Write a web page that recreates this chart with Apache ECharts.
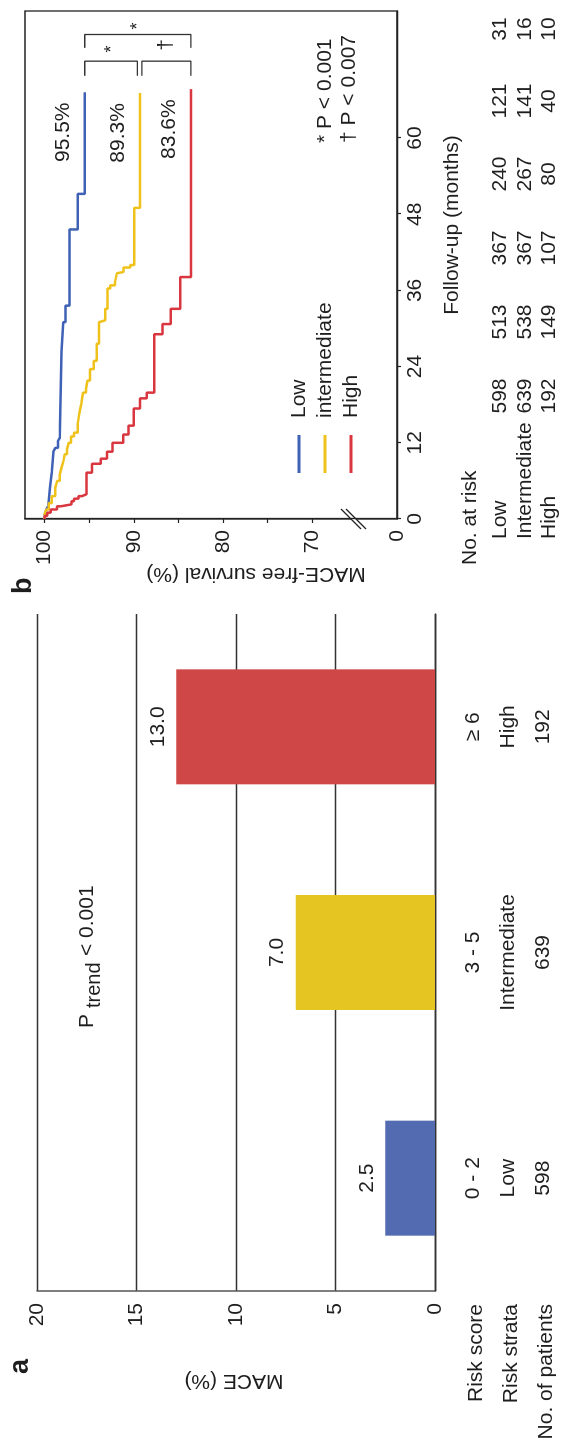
<!DOCTYPE html>
<html><head><meta charset="utf-8">
<script src="https://cdn.jsdelivr.net/npm/echarts@6/dist/echarts.min.js"></script>
<style>
html,body{margin:0;padding:0;background:#fff;overflow:hidden;width:561px;height:1442px;}
#wrap{position:absolute;left:0;top:0;width:1442px;height:561px;transform-origin:0 0;transform:translate(0,1442px) rotate(-90deg);}
</style></head><body><div id="wrap"></div>
<script>
// ---------- Panel a data ----------
const riskStrata = ['Low', 'Intermediate', 'High'];
const riskScore = ['0 - 2', '3 - 5', '\u2265 6'];
const patients = [598, 639, 192];
const maceRate = [2.5, 7.0, 13.0];
const rowHeaders = ['Risk score', 'Risk strata', 'No. of patients'];
const maceTicks = [0, 5, 10, 15, 20];

// ---------- Panel b data (Kaplan-Meier steps) ----------
const kmNames = ['Low', 'intermediate', 'High'];
const lowTime = [0, 0.7, 1.5, 2.0, 5.0, 7.3, 10.7, 11.2, 12.3, 12.8, 26.4, 31.0, 33.6, 45.6, 51.2, 67.2];
const lowSurv = [100, 99.8, 99.6, 99.4, 99.2, 99.0, 98.8, 98.5, 98.3, 98.1, 97.9, 97.65, 97.2, 96.3, 95.5, 95.5];
const intTime = [0, 0.8, 1.5, 2.5, 3.6, 4.9, 6.0, 7.0, 8.1, 9.1, 10.2, 11.0, 12.0, 13.0, 13.6, 14.9, 16.8, 18.1, 19.9, 20.5, 21.8, 23.6, 24.9, 27.6, 31.0, 31.3, 33.1, 36.3, 36.8, 37.4, 38.7, 38.9, 39.6, 40.0, 49.0, 67.1];
const intSurv = [100, 99.8, 99.55, 99.2, 98.8, 98.6, 98.3, 98.1, 97.9, 97.75, 97.5, 97.3, 97.05, 96.7, 96.3, 96.1, 95.9, 95.7, 95.35, 95.2, 94.9, 94.5, 94.15, 93.9, 93.7, 93.2, 92.95, 92.65, 92.1, 91.9, 91.7, 91.15, 90.4, 89.95, 89.3, 89.3];
const highTime = [0, 0.5, 1.0, 1.5, 2.0, 2.3, 2.8, 3.2, 3.6, 3.9, 7.3, 8.7, 9.5, 10.6, 12.0, 13.3, 14.7, 17.4, 19.0, 19.9, 29.1, 30.7, 33.1, 38.1, 67.7];
const highSurv = [100, 99.7, 99.3, 98.6, 98.2, 97.0, 96.7, 96.2, 95.8, 95.3, 94.7, 93.7, 93.0, 92.4, 91.2, 90.6, 90.0, 89.3, 88.55, 87.7, 86.8, 85.85, 84.8, 83.6, 83.6];
const monthTicks = [0, 12, 24, 36, 48, 60];
const survTicks = [70, 80, 90, 100];
const survMinorTicks = [70, 75, 80, 85, 90, 95, 100];
const axisBreakLabel = '0';

// Numbers at risk
const atRiskHeader = 'No. at risk';
const atRiskRows = ['Low', 'Intermediate', 'High'];
const atRiskLow = [598, 513, 367, 240, 121, 31];
const atRiskInt = [639, 538, 367, 267, 141, 16];
const atRiskHigh = [192, 149, 107, 80, 40, 10];

// Pairwise comparisons
const comparisons = [[0, 1], [1, 2], [0, 2]];
const compSymbols = ['*', '\u2020', '*'];
const pNotes = ['* P < 0.001', '\u2020 P < 0.007'];

// ---------- styling ----------
const FONT = '"Liberation Sans", Arial, Helvetica, sans-serif';
const TXT = '#1e1e1e';
const barColors = ['#536bb0', '#e4c521', '#d04747'];
const kmColors = ['#3f62b6', '#efc21b', '#d9363f'];

const chart = echarts.init(document.getElementById('wrap'), null, {renderer: 'canvas', width: 1442, height: 561});

const kmTimes = [lowTime, intTime, highTime];
const kmSurvs = [lowSurv, intSurv, highSurv];
const finals = kmSurvs.map(s => s[s.length - 1]);
const ends = kmTimes.map(t => t[t.length - 1]);

function T(x, y, text, o) {
  o = o || {};
  return {
    type: 'text', x: x, y: y, rotation: o.rot || 0, silent: true,
    style: {
      text: text, fill: TXT, fontFamily: FONT, fontSize: o.fs || 21,
      fontWeight: o.fw || 'normal', align: o.align || 'left', verticalAlign: 'middle'
    }
  };
}

const graphics = [];
// panel a texts
graphics.push(T(68, 21, 'a', {fs: 27, fw: 'bold'}));
graphics.push(T(61, 234, 'MACE (%)', {rot: Math.PI / 2, align: 'center'}));
const rowY = [476, 511, 546];
rowHeaders.forEach((h, i) => graphics.push(T(138, rowY[i], h, {align: 'right'})));
graphics.push(T(414, 87, 'P'));
graphics.push(T(434, 94, 'trend', {fs: 20}));
graphics.push(T(486, 87, '< 0.001'));

// panel b texts
graphics.push(T(848, 24, 'b', {fs: 27, fw: 'bold'}));
graphics.push(T(868, 256, 'MACE-free survival (%)', {rot: Math.PI / 2, align: 'center'}));
graphics.push(T(1217, 452, 'Follow-up (months)', {align: 'center'}));
graphics.push(T(877, 470.5, atRiskHeader));
const tblY = [500.5, 525, 549.5];
const tblX = [1046, 1120, 1194, 1268, 1341, 1413];
atRiskRows.forEach((r, i) => graphics.push(T(903, tblY[i], r)));
[atRiskLow, atRiskInt, atRiskHigh].forEach((row, i) => {
  row.forEach((n, j) => graphics.push(T(tblX[j], tblY[i], String(n), {align: 'center'})));
});
graphics.push(T(1299, 325, pNotes[0]));
graphics.push(T(1299, 349, pNotes[1]));
// bracket symbols
graphics.push(T(1393, 112, compSymbols[0], {align: 'center', fs: 18}));
graphics.push(T(1397, 166, compSymbols[1], {align: 'center', fs: 21}));
graphics.push(T(1416, 138, compSymbols[2], {align: 'center', fs: 18}));
// axis break marks
graphics.push({type: 'polygon', silent: true, shape: {points: [[933, 341], [933, 346], [913, 366], [913, 361]]}, style: {fill: '#fff'}});
graphics.push({type: 'line', silent: true, shape: {x1: 933, y1: 341, x2: 913, y2: 361}, style: {stroke: '#222', lineWidth: 1.2}});
graphics.push({type: 'line', silent: true, shape: {x1: 933, y1: 346, x2: 913, y2: 366}, style: {stroke: '#222', lineWidth: 1.2}});

// bracket series built from final survivals
const bx = [[69.8, 72.1], [69.8, 72.1], [74.2, 76.3]];
const bracketSeries = comparisons.map((c, k) => {
  let top = finals[c[0]], bot = finals[c[1]];
  if (k === 0) bot = bot + 0.3;
  if (k === 1) top = top - 0.2;
  return {
    type: 'line', xAxisIndex: 1, yAxisIndex: 1, silent: true, symbol: 'none',
    lineStyle: {color: '#333', width: 1.3}, z: 3,
    data: [[bx[k][0], top], [bx[k][1], top], [bx[k][1], bot], [bx[k][0], bot]]
  };
});

const kmSeries = kmNames.map((n, i) => ({
  name: n, type: 'line', xAxisIndex: 1, yAxisIndex: 1, step: 'end', symbol: 'none',
  color: kmColors[i], lineStyle: {color: kmColors[i], width: 2.5}, z: 4,
  data: kmTimes[i].map((t, j) => [t, kmSurvs[i][j]])
}));

const endLabelSeries = kmNames.map((n, i) => ({
  type: 'scatter', xAxisIndex: 1, yAxisIndex: 1, silent: true, symbolSize: 0,
  itemStyle: {color: kmColors[i], opacity: 1},
  label: {show: true, position: 'top', distance: 5, offset: [-40, -6], fontSize: 21, fontFamily: FONT,
    color: TXT, opacity: 1, textBorderWidth: 0,
    formatter: p => p.value[1].toFixed(1) + '%'},
  data: [[ends[i], finals[i]]]
}));

const option = {
  animation: false,
  backgroundColor: '#fff',
  textStyle: {fontFamily: FONT},
  grid: [
    {left: 151, top: 37, width: 677, height: 400},
    {left: 923, top: 25, width: 508, height: 372, show: true, borderColor: '#222', borderWidth: 1.3, backgroundColor: 'transparent'}
  ],
  legend: {
    data: kmNames, orient: 'vertical', left: 964, top: 281, padding: 5,
    itemWidth: 38, itemHeight: 3, itemGap: 0, icon: 'rect', selectedMode: false,
    textStyle: {fontSize: 21, lineHeight: 26, color: TXT, fontFamily: FONT, padding: [0, 0, 0, 12]}
  },
  xAxis: [
    {
      type: 'category', gridIndex: 0, data: riskStrata,
      axisTick: {show: false},
      axisLine: {show: true, lineStyle: {color: '#333', width: 1.3}},
      axisLabel: {margin: 21, fontSize: 21, lineHeight: 35, color: TXT, fontFamily: FONT,
        formatter: (v, i) => riskScore[i] + '\n' + v + '\n' + patients[i]}
    },
    {
      type: 'value', gridIndex: 1, min: 0, max: 80,
      axisLine: {show: true, onZero: false, lineStyle: {color: '#222', width: 1.3}},
      axisTick: {show: true, customValues: monthTicks, length: 4, lineStyle: {color: '#222', width: 1.2}},
      axisLabel: {customValues: monthTicks, margin: 8, fontSize: 21, color: TXT, fontFamily: FONT},
      splitLine: {show: false}
    }
  ],
  yAxis: [
    {
      type: 'value', gridIndex: 0, min: maceTicks[0], max: maceTicks[maceTicks.length - 1], interval: 5,
      axisLine: {show: true, lineStyle: {color: '#555', width: 1.5}},
      axisTick: {show: false},
      splitLine: {show: true, lineStyle: {color: '#333', width: 1.3}},
      axisLabel: {fontSize: 21, margin: 12, color: TXT, fontFamily: FONT}
    },
    {
      type: 'value', gridIndex: 1, min: 60.5, max: 102.2,
      axisLine: {show: true, onZero: false, lineStyle: {color: '#222', width: 1.3}},
      axisTick: {show: true, customValues: survMinorTicks, length: 4, lineStyle: {color: '#222', width: 1.2}},
      axisLabel: {customValues: [60.5].concat(survTicks), margin: 11, fontSize: 21, color: TXT, fontFamily: FONT,
        formatter: v => (v < survTicks[0] ? axisBreakLabel : String(v))},
      splitLine: {show: false}
    }
  ],
  series: [
    {
      type: 'bar', xAxisIndex: 0, yAxisIndex: 0, barWidth: 115, silent: true,
      data: maceRate.map((v, i) => ({value: v, itemStyle: {color: barColors[i]}})),
      label: {show: true, position: 'top', distance: 8, fontSize: 21, color: TXT, fontFamily: FONT,
        formatter: p => p.value.toFixed(1)}
    }
  ].concat(kmSeries, bracketSeries, endLabelSeries),
  graphic: graphics
};
chart.setOption(option);
</script></body></html>
